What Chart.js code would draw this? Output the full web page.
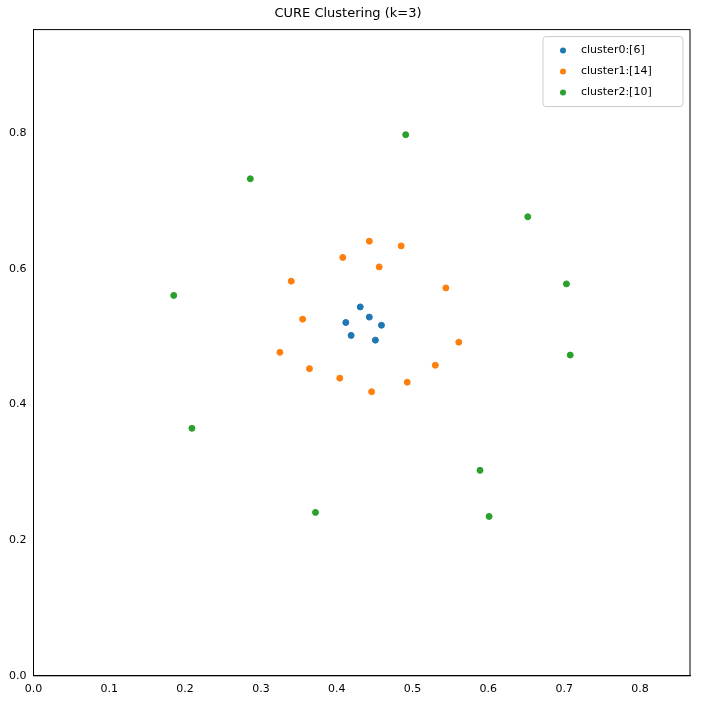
<!DOCTYPE html>
<html><head><script src="https://cdn.jsdelivr.net/npm/chart.js"></script>
<style>body{margin:0;background:#fff}#w{width:703px;height:707px}</style></head>
<body><div id="w"><canvas id="c"></canvas></div>
<script>
const c0x=[0.431,0.443,0.412,0.459,0.419,0.451];
const c0y=[0.544,0.529,0.521,0.517,0.502,0.495];
const c1x=[0.443,0.485,0.408,0.456,0.340,0.544,0.355,0.561,0.325,0.364,0.530,0.404,0.493,0.446];
const c1y=[0.641,0.634,0.617,0.603,0.582,0.572,0.526,0.492,0.477,0.453,0.458,0.439,0.433,0.419];
const c2x=[0.491,0.286,0.652,0.185,0.703,0.708,0.209,0.589,0.372,0.601];
const c2y=[0.798,0.733,0.677,0.561,0.578,0.473,0.365,0.303,0.241,0.235];
const xTicks=[0,0.1,0.2,0.3,0.4,0.5,0.6,0.7,0.8];
const yTicks=[0,0.2,0.4,0.6,0.8];
const pts=(xs,ys)=>xs.map((x,i)=>({x,y:ys[i]}));
const mk=(l,xs,ys,col)=>({label:l,data:pts(xs,ys),backgroundColor:col,borderColor:col,pointRadius:3,pointHoverRadius:3});
Chart.defaults.font.family='DejaVu Sans';Chart.defaults.font.size=11;Chart.defaults.color='#000';
new Chart(document.getElementById('c'),{type:'scatter',
data:{datasets:[mk('cluster0:[6]',c0x,c0y,'#1f77b4'),mk('cluster1:[14]',c1x,c1y,'#ff7f0e'),mk('cluster2:[10]',c2x,c2y,'#2ca02c')]},
options:{animation:false,responsive:true,maintainAspectRatio:false,
layout:{padding:{left:6,right:13,bottom:8}},
plugins:{title:{display:true,text:'CURE Clustering (k=3)',font:{size:13,weight:'normal'},padding:{top:6,bottom:8}},
legend:{display:false},tooltip:{enabled:false}},
scales:{x:{type:'linear',min:0,max:0.866,afterBuildTicks:a=>{a.ticks=xTicks.map(v=>({value:v}))},
ticks:{callback:v=>v.toFixed(1)},grid:{display:false,drawTicks:true,tickLength:4,tickColor:'#000'},border:{color:'#000'}},
y:{type:'linear',min:0,max:0.953,afterBuildTicks:a=>{a.ticks=yTicks.map(v=>({value:v}))},
ticks:{callback:v=>v.toFixed(1)},grid:{display:false,drawTicks:true,tickLength:4,tickColor:'#000'},border:{color:'#000'}}}},
plugins:[{id:'box',afterDraw(ch){const a=ch.chartArea,g=ch.ctx;g.save();g.strokeStyle='#000';g.lineWidth=1;g.strokeRect(a.left,a.top,a.right-a.left,a.bottom-a.top);
const w=140,h=70,x=a.right-7-w,y=a.top+7;g.strokeStyle='#ccc';g.fillStyle='rgba(255,255,255,0.8)';g.beginPath();g.roundRect(x,y,w,h,3);g.fill();g.stroke();
g.font='11px DejaVu Sans';g.textBaseline='middle';
ch.data.datasets.forEach((d,i)=>{const yy=y+14+i*21;g.fillStyle=d.backgroundColor;g.beginPath();g.arc(x+20,yy,3,0,Math.PI*2);g.fill();g.fillStyle='#000';g.fillText(d.label,x+38,yy);});
g.restore();}}]
});
</script></body></html>
